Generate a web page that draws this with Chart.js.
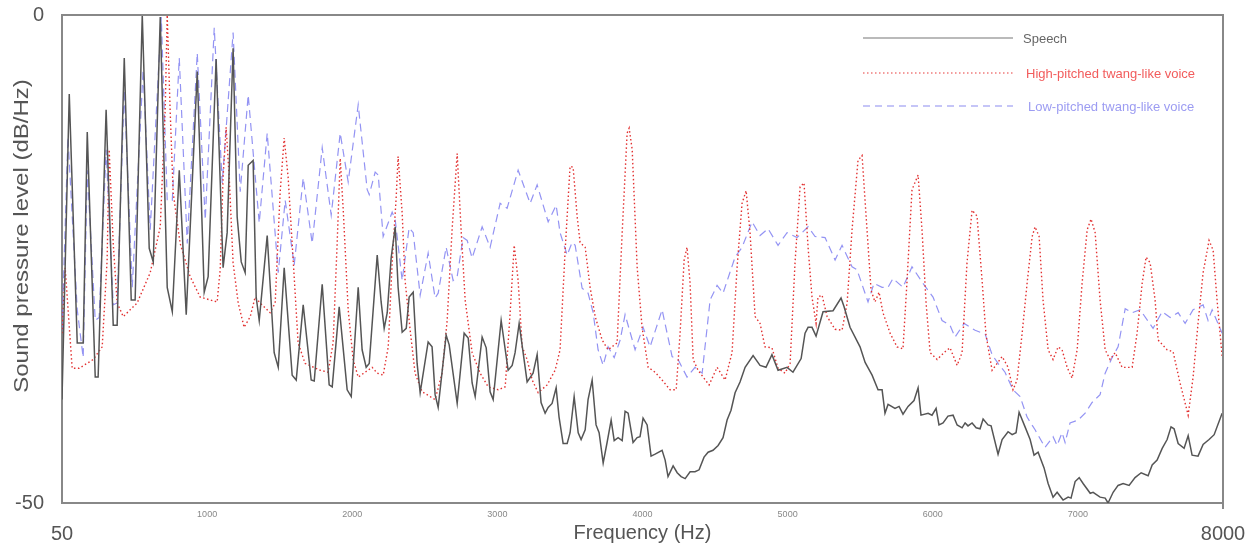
<!DOCTYPE html>
<html>
<head>
<meta charset="utf-8">
<title>Sound pressure level spectrum</title>
<script src="https://cdn.jsdelivr.net/npm/chart.js@4.4.1/dist/chart.umd.min.js"></script>
<style>
    html, body { margin: 0; padding: 0; background: #fff; }
    #wrap { width: 1250px; height: 546px; position: relative; }
</style>
</head>
<body>
<div id="wrap"><canvas id="spectrumChart"></canvas></div>
<script>
// Data (frequency in Hz, level in dB/Hz)
const speechHz = [0, 50, 105, 146, 174, 229, 249, 304, 353, 380, 429, 477, 504, 553, 601, 629, 677, 725, 760, 808, 856, 932, 980, 1007,
    1062, 1110, 1138, 1179, 1207, 1235, 1262, 1283, 1317, 1338, 1359, 1414, 1462, 1490, 1531, 1586, 1614, 1662, 1717, 1738, 1793, 1841, 1862,
    1910, 1965, 1993, 2041, 2068, 2096, 2117, 2172, 2199, 2220, 2241, 2268, 2296, 2316, 2344, 2372, 2392, 2420, 2447, 2468, 2523, 2550, 2571,
    2592, 2647, 2668, 2723, 2771, 2799, 2826, 2847, 2895, 2923, 2950, 2971, 3026, 3074, 3102, 3122, 3150, 3205, 3246, 3274, 3301, 3329, 3350,
    3377, 3405, 3425, 3453, 3481, 3501, 3529, 3557, 3577, 3605, 3625, 3653, 3680, 3701, 3729, 3756, 3784, 3805, 3832, 3860, 3880, 3901, 3935,
    3963, 3983, 4004, 4032, 4059, 4087, 4135, 4156, 4176, 4211, 4239, 4266, 4294, 4328, 4362, 4390, 4424, 4452, 4486, 4521, 4555, 4583, 4610,
    4638, 4672, 4707, 4762, 4810, 4851, 4892, 4934, 4996, 5037, 5093, 5120, 5141, 5168, 5196, 5244, 5313, 5368, 5389, 5430, 5499, 5534, 5582,
    5623, 5651, 5671, 5692, 5740, 5768, 5795, 5830, 5871, 5899, 5919, 5968, 5995, 6023, 6043, 6071, 6105, 6140, 6168, 6202, 6223, 6243, 6271,
    6299, 6326, 6347, 6381, 6402, 6450, 6478, 6519, 6547, 6574, 6595, 6636, 6671, 6698, 6726, 6767, 6795, 6829, 6857, 6898, 6933, 6953, 6981,
    7009, 7036, 7085, 7105, 7153, 7188, 7208, 7243, 7277, 7312, 7353, 7394, 7436, 7484, 7512, 7546, 7581, 7615, 7642, 7663, 7691, 7732, 7760,
    7787, 7828, 7863, 7904, 7939, 7994];
const speechDb = [-39.4, -8.1, -33.6, -33.6, -12.0, -37.1, -37.1, -9.7, -31.8, -31.8, -4.4, -29.2, -29.2, 0, -23.9, -25.3, -0.2, -27.9, -30.4,
    -15.9, -30.7, -5.8, -28.4, -26.8, -4.5, -25.9, -22.3, -3.4, -20.7, -25.3, -26.4, -15.4, -14.9, -28.9, -31.3, -22.6, -34.6, -36.1, -25.9,
    -36.9, -37.4, -29.7, -37.4, -37.5, -27.6, -37.9, -38.1, -29.9, -38.4, -39.1, -27.9, -34.3, -36.1, -35.7, -24.6, -29.4, -32.1, -30.5, -24.9,
    -21.7, -27.9, -32.5, -32.1, -28.9, -28.4, -35.7, -38.7, -33.5, -34.0, -38.9, -40.2, -32.8, -33.8, -39.8, -32.6, -33.1, -37.7, -39.1, -33.0,
    -34.1, -38.6, -39.4, -31.3, -36.4, -35.9, -34.6, -31.6, -37.6, -36.7, -34.8, -39.7, -40.8, -40.2, -39.8, -38.2, -41.2, -43.9, -43.9, -42.8,
    -39.1, -42.8, -43.5, -42.5, -39.4, -37.4, -42.0, -42.8, -45.9, -43.8, -41.5, -43.6, -43.3, -43.6, -40.6, -40.8, -43.8, -43.3, -43.2, -41.3,
    -42.0, -45.2, -45.0, -44.6, -45.6, -47.3, -46.2, -46.9, -47.3, -47.5, -46.8, -46.8, -46.6, -45.3, -44.8, -44.6, -44.1, -43.3, -41.5, -40.5,
    -38.7, -37.6, -36.1, -34.9, -35.9, -36.1, -34.8, -36.4, -36.1, -36.6, -35.2, -32.6, -32.0, -32.0, -32.9, -30.4, -30.3, -29.0, -29.9, -32.0,
    -34.0, -35.6, -36.9, -38.4, -38.4, -40.8, -39.9, -40.3, -40.1, -40.9, -40.1, -39.5, -38.2, -41.0, -40.8, -41.0, -40.3, -42.0, -41.8, -41.1,
    -41.0, -42.0, -42.3, -41.8, -42.1, -41.8, -42.3, -42.4, -41.4, -42.0, -42.1, -45.0, -43.5, -42.7, -43.0, -42.8, -40.7, -42.2, -43.5, -45.1,
    -44.8, -46.4, -48.0, -49.4, -48.9, -49.7, -49.4, -49.5, -47.8, -47.4, -48.0, -49.0, -48.9, -49.4, -49.5, -50.0, -48.9, -48.2, -48.0, -48.2,
    -47.4, -46.9, -47.2, -46.1, -45.6, -44.4, -43.5, -42.2, -42.4, -43.9, -44.4, -43.1, -45.1, -45.2, -44.0, -43.5, -43.0, -40.8];

const highHz = [0, 22, 70, 118, 215, 277, 311, 325, 353, 380, 422, 518, 608, 677, 711, 725, 745, 766, 814, 883, 952, 1069, 1090, 1110, 1131,
    1152, 1179, 1214, 1255, 1297, 1331, 1365, 1434, 1469, 1503, 1531, 1558, 1593, 1627, 1675, 1779, 1834, 1868, 1896, 1917, 1938, 1972, 2006,
    2041, 2137, 2172, 2213, 2248, 2275, 2303, 2316, 2344, 2364, 2399, 2433, 2481, 2571, 2619, 2654, 2688, 2723, 2750, 2778, 2826, 2881, 2937,
    3006, 3054, 3088, 3116, 3143, 3171, 3205, 3240, 3281, 3343, 3398, 3432, 3467, 3501, 3522, 3550, 3570, 3605, 3639, 3674, 3722, 3763, 3825,
    3860, 3894, 3908, 3929, 3963, 3997, 4039, 4087, 4135, 4190, 4232, 4259, 4287, 4307, 4328, 4349, 4383, 4418, 4459, 4514, 4569, 4617, 4652,
    4686, 4714, 4741, 4776, 4810, 4844, 4892, 4934, 4982, 5017, 5051, 5086, 5113, 5141, 5168, 5196, 5209, 5237, 5272, 5327, 5375, 5410, 5444,
    5485, 5513, 5547, 5575, 5602, 5630, 5657, 5706, 5754, 5795, 5823, 5857, 5899, 5926, 5954, 5982, 6030, 6085, 6119, 6168, 6202, 6236, 6271,
    6305, 6340, 6367, 6409, 6478, 6519, 6553, 6581, 6616, 6650, 6685, 6705, 6733, 6760, 6795, 6829, 6864, 6891, 6926, 6960, 6995, 7029, 7064,
    7091, 7119, 7153, 7188, 7222, 7257, 7305, 7374, 7408, 7443, 7470, 7498, 7532, 7553, 7615, 7656, 7704, 7760, 7794, 7828, 7863, 7904, 7932,
    7959, 7994];
const highDb = [-32.6, -25.9, -36.2, -36.2, -35.3, -34.0, -25.1, -13.8, -23.4, -29.5, -30.9, -29.5, -26.4, -21.7, -9.7, 0, -9.7, -18.2, -23.4,
    -26.8, -28.9, -29.4, -26.1, -16.6, -11.5, -16.6, -25.4, -29.5, -32.0, -30.9, -28.9, -29.5, -30.5, -29.5, -18.2, -12.6, -16.6, -25.1, -33.6,
    -35.7, -36.4, -36.6, -33.6, -23.4, -14.7, -20.0, -30.2, -35.3, -37.1, -36.1, -36.7, -36.9, -34.0, -25.4, -18.6, -14.5, -20.3, -27.2, -32.3,
    -36.7, -38.6, -39.4, -36.7, -31.3, -22.0, -14.2, -22.0, -29.2, -34.6, -36.7, -38.1, -38.4, -38.1, -30.5, -23.6, -27.2, -34.0, -35.3, -37.4,
    -38.7, -37.9, -36.4, -34.3, -24.1, -15.5, -15.6, -20.7, -23.3, -23.8, -27.9, -30.9, -33.3, -34.3, -33.6, -22.3, -12.1, -11.6, -13.8, -25.8,
    -32.0, -36.1, -36.6, -37.4, -38.4, -38.4, -32.6, -25.1, -23.8, -27.5, -35.3, -36.4, -37.1, -37.9, -36.1, -37.4, -34.6, -25.8, -19.3, -18.0,
    -22.3, -30.9, -31.6, -34.0, -34.1, -36.2, -36.7, -35.7, -25.4, -17.6, -17.2, -23.8, -28.9, -31.6, -28.9, -28.7, -30.9, -32.2, -32.3, -29.5,
    -22.0, -14.9, -14.4, -22.0, -28.2, -29.4, -28.4, -30.5, -32.6, -34.0, -34.2, -27.2, -17.9, -16.4, -22.0, -29.5, -34.6, -35.3, -34.5, -34.1,
    -35.9, -34.6, -25.4, -20.0, -20.6, -27.2, -32.8, -36.4, -35.0, -36.1, -38.4, -37.4, -32.6, -27.5, -22.7, -21.7, -22.7, -29.2, -34.3, -35.3,
    -34.0, -34.3, -36.1, -37.2, -34.3, -27.5, -22.0, -20.9, -22.3, -29.2, -34.3, -35.3, -34.6, -36.1, -36.1, -32.6, -27.5, -24.8, -25.4, -29.2,
    -33.3, -34.3, -34.5, -37.7, -41.0, -37.1, -31.6, -26.4, -23.1, -24.1, -29.2, -35.0];

const lowHz = [0, 41, 105, 146, 174, 229, 256, 304, 353, 380, 429, 484, 559, 608, 684, 725, 760, 808, 863, 932, 987, 1049, 1104, 1179, 1228,
    1283, 1359, 1414, 1490, 1538, 1600, 1662, 1724, 1793, 1855, 1917, 1972, 2041, 2103, 2117, 2158, 2179, 2213, 2275, 2296, 2344, 2392, 2420,
    2468, 2523, 2571, 2592, 2647, 2695, 2723, 2764, 2792, 2826, 2895, 2950, 3019, 3067, 3143, 3226, 3274, 3350, 3405, 3432, 3481, 3515, 3536,
    3584, 3625, 3660, 3694, 3729, 3763, 3805, 3846, 3880, 3949, 4004, 4052, 4135, 4204, 4245, 4307, 4362, 4411, 4466, 4514, 4555, 4638, 4686,
    4755, 4810, 4865, 4934, 4996, 5065, 5141, 5189, 5258, 5327, 5375, 5444, 5478, 5554, 5595, 5651, 5692, 5726, 5795, 5857, 5933, 6002, 6064,
    6119, 6154, 6216, 6292, 6361, 6409, 6450, 6498, 6553, 6602, 6650, 6705, 6774, 6829, 6857, 6891, 6912, 6946, 7002, 7050, 7098, 7153, 7188,
    7236, 7277, 7326, 7374, 7429, 7518, 7581, 7636, 7691, 7739, 7794, 7863, 7897, 7925, 7994];
const lowDb = [-32.3, -12.5, -30.2, -35.1, -15.9, -31.3, -31.0, -13.8, -29.7, -29.5, -7.7, -27.9, -5.6, -22.0, -0.2, -19.0, -19.0, -4.4, -23.4,
    -3.9, -21.0, -1.3, -17.2, -1.8, -18.1, -8.2, -21.3, -12.1, -26.4, -19.0, -25.6, -16.7, -23.4, -13.6, -20.5, -12.1, -17.1, -9.2, -17.9,
    -18.4, -16.1, -16.4, -22.7, -20.2, -21.0, -27.2, -21.8, -22.3, -28.7, -24.4, -29.0, -28.5, -23.8, -27.2, -26.8, -22.8, -23.1, -24.9, -21.7,
    -23.8, -19.3, -19.8, -15.9, -19.3, -17.4, -21.2, -19.5, -22.3, -24.6, -23.3, -23.6, -28.0, -28.5, -30.5, -34.3, -35.9, -34.0, -35.1, -33.3,
    -30.7, -34.3, -32.0, -34.0, -30.2, -35.0, -35.3, -37.1, -36.1, -36.7, -29.2, -27.7, -28.5, -24.8, -23.8, -21.2, -22.6, -21.9, -23.6, -22.3,
    -22.8, -21.7, -22.7, -22.8, -25.1, -23.6, -25.8, -26.1, -29.4, -27.5, -27.9, -27.9, -27.0, -27.9, -25.8, -27.5, -28.9, -31.3, -31.8, -33.0,
    -31.6, -32.3, -32.7, -34.8, -35.7, -36.6, -38.4, -39.1, -41.2, -42.5, -44.3, -43.2, -44.1, -42.8, -43.8, -41.8, -41.5, -40.8, -39.7, -38.9,
    -36.7, -35.1, -34.0, -30.1, -30.5, -30.2, -32.1, -30.4, -31.0, -30.5, -31.6, -30.2, -29.7, -31.3, -30.2, -32.6];

const xTicks = [0, 1000, 2000, 3000, 4000, 5000, 6000, 7000, 8000];
const yTicks = [0, -50];
const edgeLabels = ['50', '8000'];

const seriesNames = ['Speech', 'High-pitched twang-like voice', 'Low-pitched twang-like voice'];
const yTitle = 'Sound pressure level (dB/Hz)';

function toPoints(hz, db) {
    return hz.map((f, i) => ({ x: f, y: db[i] }));
}

// Draws the frame, the stretched y title, the big edge labels of the x axis and the legend
const framePlugin = {
    id: 'framePlugin',
    afterDraw(chart) {
        const ctx = chart.ctx;
        const area = chart.chartArea;
        const xScale = chart.scales.x;
        ctx.save();
        ctx.strokeStyle = '#888';
        ctx.lineWidth = 2;
        ctx.beginPath();
        ctx.moveTo(area.left, area.top);
        ctx.lineTo(area.right, area.top);
        ctx.lineTo(area.right, area.bottom + 6);
        ctx.stroke();

        ctx.fillStyle = '#555';
        ctx.font = '20px "Liberation Sans", Arial, sans-serif';
        ctx.textBaseline = 'middle';
        ctx.textAlign = 'center';
        ctx.fillText(edgeLabels[0], xScale.getPixelForValue(xTicks[0]), area.bottom + 31);
        ctx.fillText(edgeLabels[1], xScale.getPixelForValue(xTicks[xTicks.length - 1]), area.bottom + 31);

        // y title, a bit stretched along its length like in the picture
        ctx.save();
        ctx.translate(22, 236);
        ctx.rotate(-Math.PI / 2);
        ctx.scale(1.2, 1);
        ctx.fillText(yTitle, 0, 0);
        ctx.restore();

        // legend
        const legendItems = [
            { y: 38, line: '#777', text: '#666', dash: [], tx: 1023 },
            { y: 73, line: '#e83a3a', text: '#f25c5c', dash: [1.5, 2.5], tx: 1026 },
            { y: 106, line: '#8c8cf0', text: '#9c9cf2', dash: [7, 5], tx: 1028 }
        ];
        ctx.font = '13px "Liberation Sans", Arial, sans-serif';
        ctx.textAlign = 'left';
        legendItems.forEach((item, i) => {
            ctx.strokeStyle = item.line;
            ctx.lineWidth = 1.2;
            ctx.setLineDash(item.dash);
            ctx.beginPath();
            ctx.moveTo(863, item.y);
            ctx.lineTo(1013, item.y);
            ctx.stroke();
            ctx.setLineDash([]);
            ctx.fillStyle = item.text;
            ctx.fillText(seriesNames[i], item.tx, item.y + 1);
        });
        ctx.restore();
    }
};

Chart.defaults.font.family = '"Liberation Sans", Arial, sans-serif';
Chart.defaults.color = '#555';

const ctx = document.getElementById('spectrumChart').getContext('2d');
new Chart(ctx, {
    type: 'line',
    data: {
        datasets: [{
            label: seriesNames[0],
            data: toPoints(speechHz, speechDb),
            borderColor: '#555',
            borderWidth: 1.5,
            pointRadius: 0,
            tension: 0
        }, {
            label: seriesNames[1],
            data: toPoints(highHz, highDb),
            borderColor: '#e23030',
            borderWidth: 1.4,
            borderDash: [1.5, 2.5],
            pointRadius: 0,
            tension: 0
        }, {
            label: seriesNames[2],
            data: toPoints(lowHz, lowDb),
            borderColor: 'rgba(120, 120, 240, 0.8)',
            borderWidth: 1.2,
            borderDash: [8, 5],
            pointRadius: 0,
            tension: 0
        }]
    },
    options: {
        responsive: true,
        maintainAspectRatio: false,
        animation: false,
        layout: { padding: { top: 15, right: 27, left: 0, bottom: 0 } },
        plugins: {
            legend: { display: false },
            tooltip: { enabled: false }
        },
        scales: {
            x: {
                type: 'linear',
                min: 0,
                max: 8000,
                afterBuildTicks: (scale) => { scale.ticks = xTicks.map(v => ({ value: v })); },
                afterFit: (scale) => {
                    scale.height = 43;
                    scale.paddingLeft = 0;
                    scale.paddingRight = 0;
                },
                grid: { display: false, drawTicks: true, tickLength: 4, tickColor: '#888', tickWidth: 1 },
                border: { display: true, color: '#888', width: 2 },
                ticks: {
                    padding: 2,
                    color: '#888',
                    font: { size: 9, family: '"Liberation Sans Narrow", "Liberation Sans", Arial, sans-serif' },
                    callback: (v) => (v === xTicks[0] || v === xTicks[xTicks.length - 1]) ? '' : String(v)
                },
                title: {
                    display: true,
                    text: 'Frequency (Hz)',
                    color: '#555',
                    font: { size: 20 },
                    padding: { top: 0, bottom: 1 }
                }
            },
            y: {
                type: 'linear',
                min: -50,
                max: 0,
                afterBuildTicks: (scale) => { scale.ticks = yTicks.map(v => ({ value: v })); },
                afterFit: (scale) => {
                    scale.width = 62;
                    scale.paddingTop = 0;
                    scale.paddingBottom = 0;
                },
                grid: { display: false, drawTicks: true, tickLength: 6, tickColor: '#888', tickWidth: 1 },
                border: { display: true, color: '#888', width: 2 },
                ticks: {
                    padding: 12,
                    color: '#555',
                    font: { size: 20 }
                },
                title: { display: false }
            }
        }
    },
    plugins: [framePlugin]
});
</script>
</body>
</html>
